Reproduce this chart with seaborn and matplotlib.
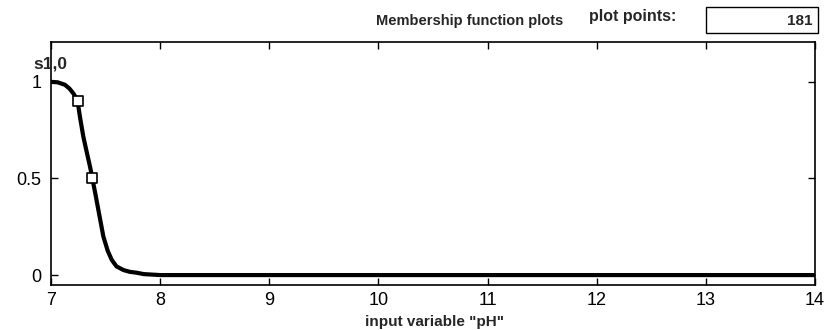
import matplotlib
matplotlib.use("Agg")
import matplotlib.pyplot as plt
import seaborn as sns
import pandas as pd
from matplotlib.patches import Rectangle

# Data
ph_x = [7.0, 7.06, 7.128, 7.17, 7.205, 7.225, 7.245, 7.265, 7.296, 7.33, 7.358, 7.379, 7.41, 7.434,
        7.48, 7.52, 7.557, 7.6, 7.664, 7.72, 7.786, 7.85, 8.0, 9.0, 10.0, 11.0, 12.0, 13.0, 14.0]
mf_y = [1.0, 0.998, 0.985, 0.965, 0.94, 0.922, 0.895, 0.82, 0.717, 0.63, 0.56, 0.5, 0.41, 0.337,
        0.199, 0.125, 0.078, 0.045, 0.026, 0.017, 0.012, 0.005, 0.0, 0.0, 0.0, 0.0, 0.0, 0.0, 0.0]
marker_x = [7.245, 7.375]
marker_y = [0.9, 0.5]
x_ticks = [7, 8, 9, 10, 11, 12, 13, 14]
y_ticks = [0, 0.5, 1]
y_ticklabels = ["0", "0.5", "1"]
mf_name = "s1,0"
n_points = "181"

sns.set_style("white")
plt.rcParams['font.family'] = ['Liberation Sans', 'DejaVu Sans']

fig = plt.figure(figsize=(8.32, 3.30), dpi=100)
ax = fig.add_axes([0.0613, 0.136, 0.9183, 0.737])

df = pd.DataFrame({"x": ph_x, "y": mf_y})
sns.lineplot(data=df, x="x", y="y", ax=ax, color="black", linewidth=3.0)
mk = pd.DataFrame({"x": marker_x, "y": marker_y})
sns.scatterplot(data=mk, x="x", y="y", ax=ax, marker="s", s=48,
                facecolor="white", edgecolor="black", linewidth=1.2, zorder=5)

ax.set_xlim(7, 14)
ax.set_ylim(-0.052, 1.207)
ax.set_xticks(x_ticks)
ax.set_xticklabels([str(t) for t in x_ticks], fontsize=13)
ax.set_yticks(y_ticks)
ax.set_yticklabels(y_ticklabels, fontsize=13)
ax.tick_params(axis="x", pad=5)
ax.tick_params(direction="in", length=5, width=1, top=True, right=True,
               bottom=True, left=True, colors="black")
ax.tick_params(axis="y", pad=7)
for sp in ax.spines.values():
    sp.set_color("black")
    sp.set_linewidth(1.2)
ax.set_xlabel("")
ax.set_ylabel("")
fig.text(0.522, 0.024, 'input variable "pH"', fontsize=11, fontweight="bold",
         ha="center", va="center")

fig.text(0.060, 0.805, mf_name, fontsize=12.5, fontweight="bold", ha="center", va="center")
fig.text(0.565, 0.935, "Membership function plots", fontsize=10.5, fontweight="bold",
         ha="center", va="center")
fig.text(0.760, 0.950, "plot points:", fontsize=11.5, fontweight="bold", ha="center", va="center")
fig.patches.append(Rectangle((0.849, 0.900), 0.134, 0.079, transform=fig.transFigure,
                             facecolor="white", edgecolor="black", linewidth=1.0))
fig.text(0.976, 0.936, n_points, fontsize=11, fontweight="bold", ha="right", va="center")

fig.savefig("out.png", dpi=100, facecolor="white")
